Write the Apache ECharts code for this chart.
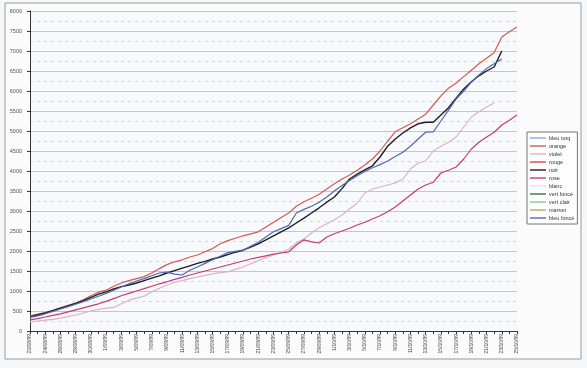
<!DOCTYPE html>
<html><head><meta charset="utf-8">
<script src="https://cdn.jsdelivr.net/npm/echarts@6/dist/echarts.min.js"></script>
<style>html,body{margin:0;padding:0;background:#f6f7f9}#c{width:587px;height:368px}</style>
</head><body><div id="c"></div>
<script>
// categories: daily dates 22/08/99 .. 25/10/99
const dates = ["22/08/99","23/08/99","24/08/99","25/08/99","26/08/99","27/08/99","28/08/99","29/08/99","30/08/99","31/08/99",
"1/09/99","2/09/99","3/09/99","4/09/99","5/09/99","6/09/99","7/09/99","8/09/99","9/09/99","10/09/99",
"11/09/99","12/09/99","13/09/99","14/09/99","15/09/99","16/09/99","17/09/99","18/09/99","19/09/99","20/09/99",
"21/09/99","22/09/99","23/09/99","24/09/99","25/09/99","26/09/99","27/09/99","28/09/99","29/09/99","30/09/99",
"1/10/99","2/10/99","3/10/99","4/10/99","5/10/99","6/10/99","7/10/99","8/10/99","9/10/99","10/10/99",
"11/10/99","12/10/99","13/10/99","14/10/99","15/10/99","16/10/99","17/10/99","18/10/99","19/10/99","20/10/99",
"21/10/99","22/10/99","23/10/99","24/10/99","25/10/99"];

const names = ["bleu turq","orange","violet","rouge","noir","rose","blanc","vert foncé","vert clair","marron","bleu foncé"];

const orange = [380,420,460,520,580,640,700,780,880,970,1020,1120,1200,1260,1310,1360,1450,1560,1660,1730,
1780,1850,1900,1980,2060,2180,2260,2320,2380,2430,2480,2600,2720,2840,2950,3120,3230,3320,3420,3550,
3680,3800,3900,4020,4150,4300,4500,4750,4980,5080,5180,5300,5420,5650,5880,6070,6200,6360,6520,6680,
6820,6960,7350,7480,7600];

const noir = [360,400,450,510,570,630,690,760,840,920,980,1050,1110,1150,1200,1260,1320,1380,1450,1510,
1570,1630,1690,1740,1800,1850,1910,1970,2020,2100,2180,2280,2380,2480,2580,2700,2820,2950,3080,3220,
3350,3560,3800,3920,4030,4130,4350,4620,4800,4950,5080,5180,5220,5220,5400,5580,5820,6050,6230,6380,
6500,6600,7000];

const bleuFonce = [340,380,430,490,550,610,670,730,800,870,940,1020,1100,1180,1250,1310,1380,1450,1470,1420,
1400,1520,1600,1690,1780,1870,1960,1990,2020,2120,2220,2350,2480,2560,2640,2950,3040,3120,3220,3350,
3500,3640,3760,3880,3990,4080,4160,4250,4360,4470,4620,4800,4970,4980,5250,5520,5800,6000,6220,6400,
6560,6680,6800];

const rose = [280,310,350,390,430,480,530,580,630,680,740,810,880,940,1000,1060,1120,1180,1230,1290,
1340,1400,1450,1500,1550,1600,1650,1700,1750,1800,1840,1880,1920,1950,1980,2150,2280,2230,2200,2350,
2430,2500,2570,2650,2720,2800,2880,2980,3100,3250,3400,3550,3650,3720,3950,4020,4100,4300,4550,4720,
4850,4970,5150,5270,5400];

const violet = [230,250,270,290,320,360,400,450,500,540,570,590,680,770,820,870,980,1070,1150,1220,
1260,1310,1350,1390,1430,1460,1480,1540,1600,1680,1760,1830,1900,1960,2050,2200,2300,2450,2580,2680,
2780,2900,3050,3200,3450,3550,3600,3650,3700,3800,4050,4200,4250,4500,4620,4720,4850,5100,5350,5480,
5600,5700];

const empty = [];
const seriesData = {"bleu turq":empty,"orange":orange,"violet":violet,"rouge":empty,"noir":noir,"rose":rose,
"blanc":empty,"vert foncé":empty,"vert clair":empty,"marron":empty,"bleu foncé":bleuFonce};
const colors = {"bleu turq":"#86aede","orange":"#d65a4e","violet":"#dcb2c8","rouge":"#e0404a","noir":"#1e1e22",
"rose":"#c63c72","blanc":"#e4e4e8","vert foncé":"#4a6650","vert clair":"#8cc898","marron":"#c8a060","bleu foncé":"#5068ae"};

const chart = echarts.init(document.getElementById('c'), null, {renderer:'canvas'});
chart.setOption({
  animation:false,
  backgroundColor:'#f6f7f9',
  graphic:[
    {type:'rect',shape:{x:5,y:3,width:576,height:356},style:{fill:'#fbfbfc',stroke:'#9a9a9a',lineWidth:1},z:-10},
    {type:'rect',shape:{x:30,y:11,width:487,height:320},style:{fill:'#f7f9fc'},z:-9}
  ],
  grid:{left:30,right:70,top:11,bottom:37},
  xAxis:{type:'category',data:dates,boundaryGap:false,
    axisLine:{lineStyle:{color:'#333',width:1}},
    axisTick:{interval:0,length:3,lineStyle:{color:'#333'}},
    axisLabel:{interval:1,rotate:90,fontSize:5,color:'#444',margin:3,fontFamily:'Liberation Sans'},
    splitLine:{show:false}},
  yAxis:{type:'value',min:0,max:8000,interval:500,
    axisLine:{show:true,lineStyle:{color:'#333',width:1}},
    axisTick:{show:true,length:3,lineStyle:{color:'#333'}},
    axisLabel:{fontSize:5.5,color:'#555',margin:8,fontFamily:'Liberation Sans',formatter:v=>String(v)},
    splitLine:{lineStyle:{color:'#c4c6ca',width:1}},
    minorTick:{show:false,splitNumber:2},
    minorSplitLine:{show:true,lineStyle:{color:'#d2d4d8',type:[3,4],width:1}}},
  legend:{orient:'vertical',left:527,top:132,data:names,
    itemWidth:16,itemHeight:1.4,itemGap:0,icon:'rect',
    padding:[2,3,2,3],borderColor:'#777',borderWidth:1,backgroundColor:'#fdfdfd',
    textStyle:{fontSize:5.5,lineHeight:8,color:'#333',fontFamily:'Liberation Sans',padding:[0,0,0,-2]}},
  series:names.map(n=>({name:n,type:'line',data:seriesData[n],showSymbol:false,symbol:'none',
    color:colors[n],lineStyle:{width:n==='noir'?1.4:1.2,color:colors[n]}}))
});
</script></body></html>
